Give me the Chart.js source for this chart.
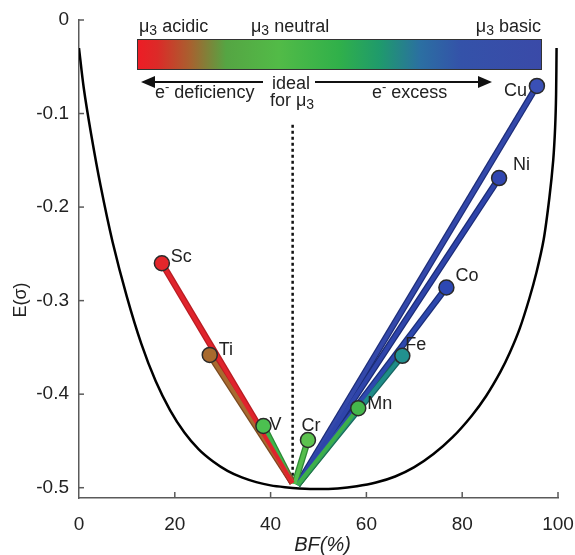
<!DOCTYPE html>
<html>
<head>
<meta charset="utf-8">
<script src="https://cdn.jsdelivr.net/npm/chart.js@4.4.1/dist/chart.umd.min.js"></script>
<style>
  html, body { margin: 0; padding: 0; background: #fff; overflow: hidden; }
  #wrap { width: 575px; height: 555px; position: relative; }
</style>
</head>
<body>
<div id="wrap"><canvas id="chart"></canvas></div>
<script>
// metal end points (BF %, E(sigma))
const metals = ["Sc", "Ti", "V", "Cr", "Mn", "Fe", "Co", "Ni", "Cu"];
const metalBF = [17.3, 27.3, 38.5, 47.8, 58.3, 67.5, 76.7, 87.7, 95.6];
const metalE = [-0.260, -0.358, -0.434, -0.449, -0.415, -0.359, -0.286, -0.169, -0.0705];
// where each line meets the bottom
const startBF = [44.6, 44.6, 44.6, 45.0, 45.6, 45.6, 45.6, 45.6, 45.6];
const startE = [-0.495, -0.495, -0.495, -0.496, -0.497, -0.497, -0.497, -0.497, -0.497];

// black envelope curve
const curveBF = [0, 1, 2.5, 4.5, 7, 10, 13, 16, 19, 22, 25, 28, 31, 34, 37, 40, 43, 46, 50,
    54, 58, 62, 66, 70, 74, 78, 82, 85, 88, 90, 92, 94, 95.5, 97, 98.2, 99, 99.4, 99.6, 99.7];
const curveE = [-0.030, -0.073, -0.121, -0.177, -0.237, -0.296, -0.346, -0.386, -0.417, -0.441, -0.459, -0.472,
    -0.482, -0.489, -0.494, -0.4975, -0.4995, -0.5008, -0.5015,
    -0.5008, -0.4985, -0.4945, -0.488, -0.478, -0.464, -0.446, -0.423, -0.402, -0.376, -0.355, -0.330,
    -0.298, -0.270, -0.235, -0.190, -0.150, -0.115, -0.080, -0.030];

// dotted "ideal" line
const idealBF = [44.6, 44.6];
const idealE = [-0.112, -0.49];

const xTicks = [0, 20, 40, 60, 80, 100];
const yTicks = [0, -0.1, -0.2, -0.3, -0.4, -0.5];

const lineColors = ["#e0242c", "#a86a30", "#3fb44a", "#55be4c", "#3daf4a", "#1f8c88", "#2d48ae", "#2e44aa", "#3348aa"];
const edgeColors = ["#b81c22", "#7a4a20", "#2a8a35", "#2f8a35", "#26803a", "#156460", "#1a2d78", "#1a2b75", "#1c2c78"];
const dotColors = ["#e3262b", "#a86a2e", "#4cc050", "#5cc24f", "#45b74b", "#22918f", "#2d48b3", "#3046b0", "#3a50b5"];
// label placement around each dot: dx, dy, align
const labelPos = [[9, -6, "left"], [9, -5, "left"], [6, -1, "left"], [3, -14, "center"], [9, -4, "left"],
    [3, -11, "left"], [9, -11, "left"], [14, -13, "left"], [-10, 5, "right"]];

const FONT = '"Liberation Sans", Arial, sans-serif';

const datasets = [];
datasets.push({
    data: metals.map((m, i) => ({ x: metalBF[i], y: metalE[i] })),
    pointRadius: 7.5,
    pointBackgroundColor: dotColors,
    pointBorderColor: "#2a2a2a",
    pointBorderWidth: 1.5,
    showLine: false,
    order: 0,
});
metals.forEach((m, i) => {
    const pts = [{ x: startBF[i], y: startE[i] }, { x: metalBF[i], y: metalE[i] }];
    datasets.push({ data: pts, showLine: true, borderColor: lineColors[i], borderWidth: 4, pointRadius: 0, order: 1 });
    datasets.push({ data: pts, showLine: true, borderColor: edgeColors[i], borderWidth: 6.5, pointRadius: 0, order: 2 });
});
datasets.push({
    data: idealBF.map((x, i) => ({ x: x, y: idealE[i] })),
    showLine: true, borderColor: "#111", borderWidth: 2.5, borderDash: [3, 3], pointRadius: 0, order: 3,
});
datasets.push({
    data: curveBF.map((x, i) => ({ x: x, y: curveE[i] })),
    showLine: true, borderColor: "#000", borderWidth: 2.5, pointRadius: 0, tension: 0.3, order: 4,
});

function richText(ctx, parts, x, y, align) {
    let w = 0;
    parts.forEach(p => { ctx.font = p.size + "px " + FONT; w += ctx.measureText(p.t).width; });
    let cx = align === "center" ? x - w / 2 : align === "right" ? x - w : x;
    ctx.textAlign = "left";
    ctx.textBaseline = "middle";
    parts.forEach(p => {
        ctx.font = p.size + "px " + FONT;
        ctx.fillText(p.t, cx, y + (p.dy || 0));
        cx += ctx.measureText(p.t).width;
    });
}

function arrow(ctx, x1, x2, y) {
    const dir = Math.sign(x2 - x1);
    ctx.beginPath();
    ctx.moveTo(x1, y);
    ctx.lineTo(x2 - dir * 10, y);
    ctx.stroke();
    ctx.beginPath();
    ctx.moveTo(x2, y);
    ctx.lineTo(x2 - dir * 14, y - 6);
    ctx.lineTo(x2 - dir * 14, y + 6);
    ctx.closePath();
    ctx.fill();
}

const decorations = {
    id: "decorations",
    afterDraw(chart) {
        const { ctx, scales: { x, y } } = chart;
        ctx.save();
        // inward tick marks
        ctx.strokeStyle = "#5a5a5a";
        ctx.lineWidth = 1.5;
        xTicks.slice(1).forEach(v => {
            const px = x.getPixelForValue(v);
            ctx.beginPath(); ctx.moveTo(px, y.bottom); ctx.lineTo(px, y.bottom - 6); ctx.stroke();
        });
        yTicks.forEach(v => {
            const py = y.getPixelForValue(v);
            ctx.beginPath(); ctx.moveTo(x.left, py); ctx.lineTo(x.left + 5, py); ctx.stroke();
        });

        // colour bar
        const g = ctx.createLinearGradient(137, 0, 542, 0);
        g.addColorStop(0, "#ee1c25");
        g.addColorStop(0.05, "#dc2a28");
        g.addColorStop(0.13, "#a9602f");
        g.addColorStop(0.22, "#55a543");
        g.addColorStop(0.35, "#52bb47");
        g.addColorStop(0.5, "#30b04a");
        g.addColorStop(0.6, "#1f9a6c");
        g.addColorStop(0.7, "#2b6fa2");
        g.addColorStop(0.8, "#3452a9");
        g.addColorStop(1, "#3a4aa8");
        ctx.fillStyle = g;
        ctx.fillRect(137, 39, 405, 31);
        ctx.strokeStyle = "#333";
        ctx.lineWidth = 1;
        ctx.strokeRect(137.5, 39.5, 404, 30);

        ctx.fillStyle = "#222";
        richText(ctx, [{ t: "μ", size: 18 }, { t: "3", size: 14, dy: 4 }, { t: " acidic", size: 18 }], 139, 27, "left");
        richText(ctx, [{ t: "μ", size: 18 }, { t: "3", size: 14, dy: 4 }, { t: " neutral", size: 18 }], 251, 27, "left");
        richText(ctx, [{ t: "μ", size: 18 }, { t: "3", size: 14, dy: 4 }, { t: " basic", size: 18 }], 541, 27, "right");

        // arrows
        ctx.strokeStyle = "#111";
        ctx.fillStyle = "#111";
        ctx.lineWidth = 2;
        arrow(ctx, 263, 141, 82);
        arrow(ctx, 315, 492, 82);
        ctx.fillStyle = "#222";
        richText(ctx, [{ t: "e", size: 18 }, { t: "-", size: 13, dy: -6 }, { t: " deficiency", size: 18 }], 155, 93, "left");
        richText(ctx, [{ t: "e", size: 18 }, { t: "-", size: 13, dy: -6 }, { t: " excess", size: 18 }], 372, 93, "left");
        richText(ctx, [{ t: "ideal", size: 18 }], 291, 84, "center");
        richText(ctx, [{ t: "for ", size: 18 }, { t: "μ", size: 18 }, { t: "3", size: 14, dy: 4 }], 292, 101, "center");

        // metal labels
        metals.forEach((m, i) => {
            const px = x.getPixelForValue(metalBF[i]);
            const py = y.getPixelForValue(metalE[i]);
            const [dx, dy, al] = labelPos[i];
            ctx.font = "18px " + FONT;
            ctx.textAlign = al;
            ctx.textBaseline = "middle";
            ctx.fillText(m, px + dx, py + dy);
        });

        // axis titles
        ctx.font = "italic 20px " + FONT;
        ctx.textAlign = "center";
        ctx.textBaseline = "middle";
        ctx.fillText("BF(%)", (x.left + x.right) / 2 + 4, 545);
        ctx.save();
        ctx.translate(21, 300);
        ctx.rotate(-Math.PI / 2);
        ctx.font = "18px " + FONT;
        ctx.fillText("E(σ)", 0, 0);
        ctx.restore();
        ctx.restore();
    },
};

new Chart(document.getElementById("chart"), {
    type: "scatter",
    data: { datasets: datasets },
    options: {
        responsive: true,
        maintainAspectRatio: false,
        animation: false,
        layout: { padding: { top: 20, right: 17, bottom: 0, left: 0 } },
        plugins: { legend: { display: false }, tooltip: { enabled: false } },
        scales: {
            x: {
                type: "linear",
                min: 0,
                max: 100,
                afterBuildTicks: (s) => { s.ticks = xTicks.map(v => ({ value: v })); },
                afterFit: (s) => { s.height = 57; s.paddingLeft = 0; s.paddingRight = 0; },
                grid: { display: false, drawTicks: false },
                border: { display: true, color: "#5a5a5a", width: 1.5 },
                ticks: { padding: 15, color: "#222", font: { family: FONT, size: 19 }, maxRotation: 0 },
            },
            y: {
                type: "linear",
                min: -0.511,
                max: 0,
                afterBuildTicks: (s) => { s.ticks = yTicks.map(v => ({ value: v })); },
                afterFit: (s) => { s.width = 79; s.paddingTop = 0; s.paddingBottom = 0; },
                grid: { display: false, drawTicks: false },
                border: { display: true, color: "#5a5a5a", width: 1.5 },
                ticks: { padding: 10, color: "#222", font: { family: FONT, size: 19 }, callback: (v) => (v === 0 ? "0" : String(v)) },
            },
        },
    },
    plugins: [decorations],
});
</script>
</body>
</html>
